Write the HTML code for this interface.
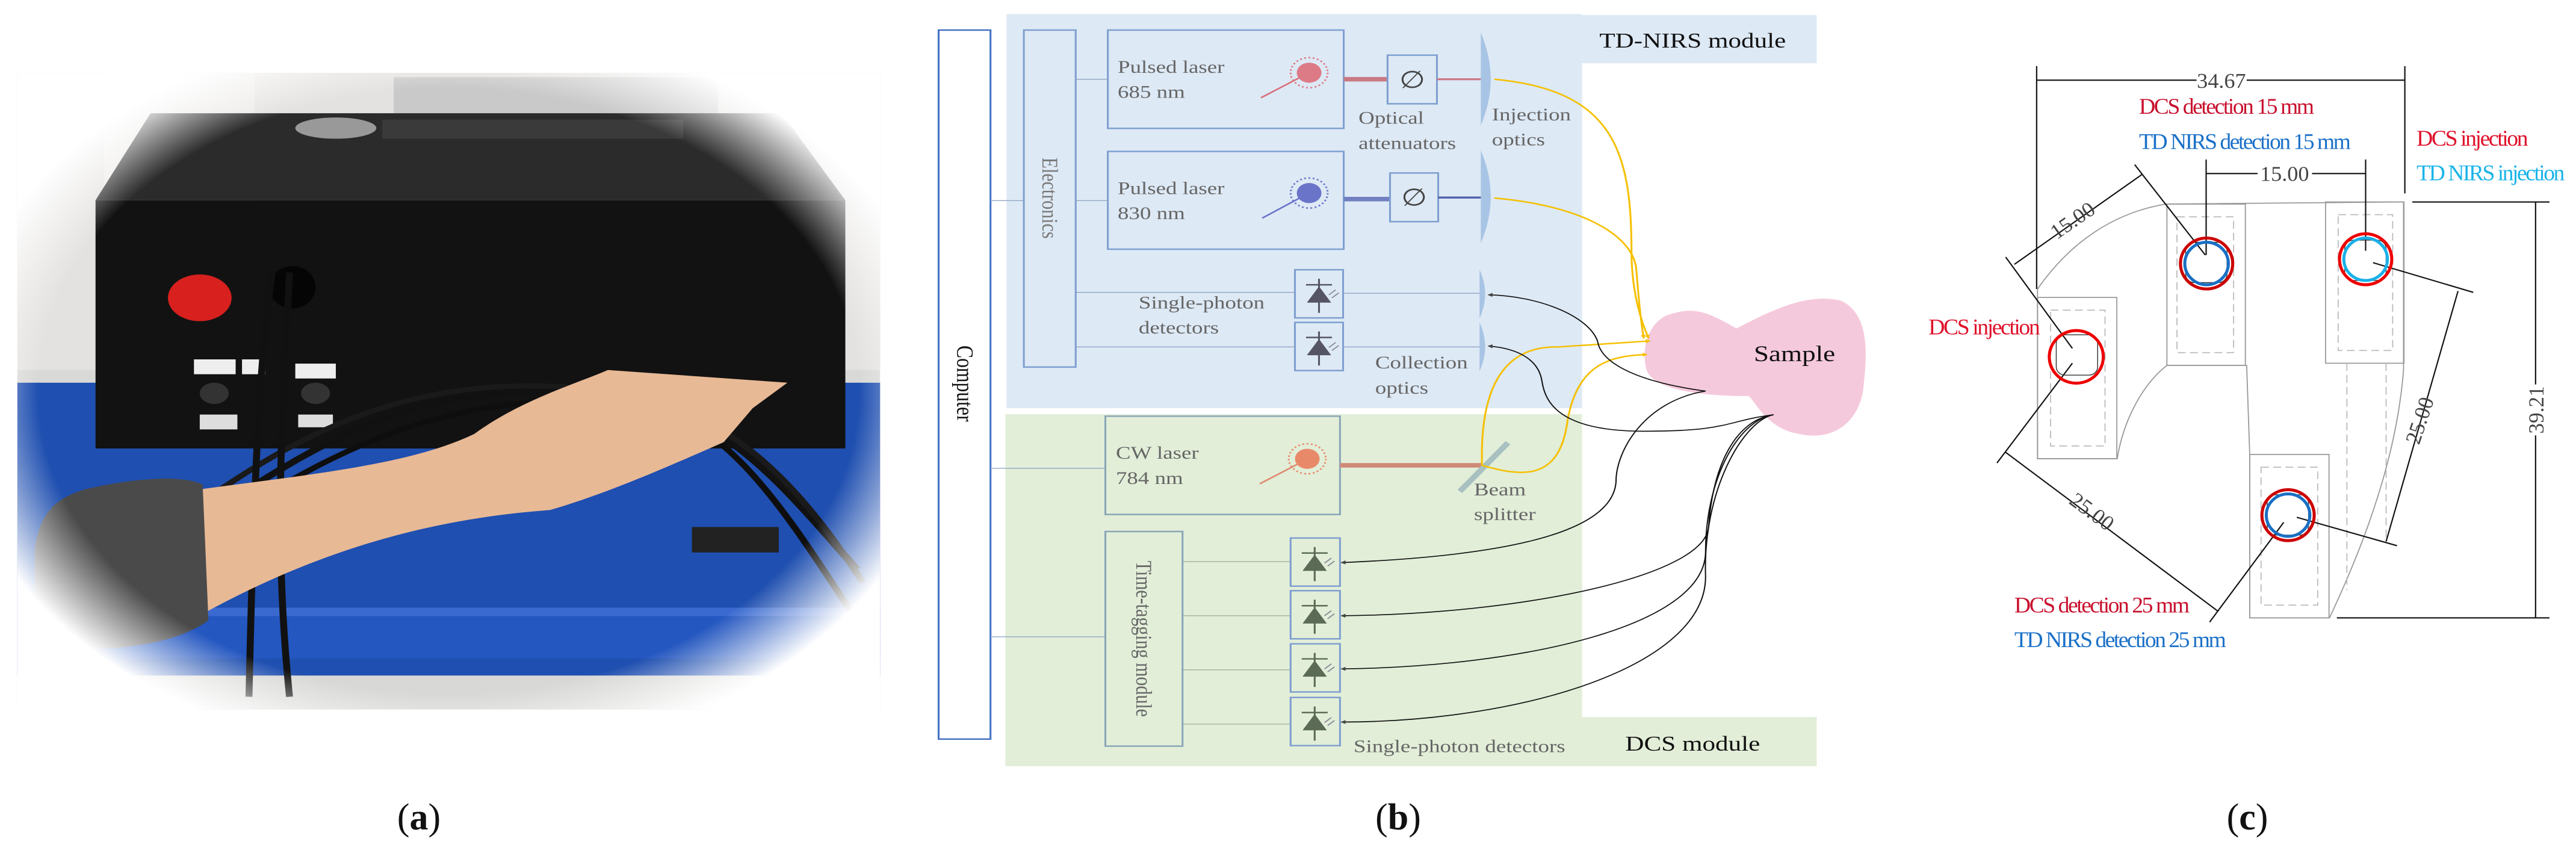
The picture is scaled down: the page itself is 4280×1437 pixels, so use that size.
<!DOCTYPE html>
<html><head><meta charset="utf-8"><style>
html,body{margin:0;padding:0;background:#fff}
svg{display:block}
text{font-family:"Liberation Serif",serif}
</style></head><body>
<svg width="4280" height="1437" viewBox="0 0 4280 1437" xmlns="http://www.w3.org/2000/svg">
<defs>
<marker id="ak" markerWidth="8" markerHeight="8" refX="7" refY="4" orient="auto" markerUnits="userSpaceOnUse" viewBox="0 0 8 8"><path d="M0,0 L8,4 L0,8 z" fill="#444"/></marker>
<marker id="ay" markerWidth="8" markerHeight="8" refX="7" refY="4" orient="auto" markerUnits="userSpaceOnUse" viewBox="0 0 8 8"><path d="M0,0 L8,4 L0,8 z" fill="#f5c000"/></marker>
<radialGradient id="vig" cx="50%" cy="50%" r="58%"><stop offset="82%" stop-color="#fff" stop-opacity="0"/><stop offset="100%" stop-color="#fff" stop-opacity="1"/></radialGradient>
<g id="det"><rect x="0" y="0" width="78" height="96" fill="none" stroke="#7f9fd0" stroke-width="3"/><path d="M18,30 L60,30 M22,64 L56,64 L39,36 z M39,18 L39,86" stroke="#556" stroke-width="3" fill="#556"/><path d="M55,50 L66,40 M60,56 L71,46" stroke="#889" stroke-width="2"/></g>
<g id="detg"><rect x="0" y="0" width="80" height="96" fill="none" stroke="#7f9fd0" stroke-width="3"/><path d="M18,30 L60,30 M22,64 L56,64 L39,36 z M39,18 L39,86" stroke="#5b6b55" stroke-width="3" fill="#5b6b55"/><path d="M55,50 L66,40 M60,56 L71,46" stroke="#889" stroke-width="2"/></g>
</defs>

<!-- Panel a: photo -->
<g transform="translate(0,100) scale(0.962,0.705)">
<rect x="30" y="30" width="1490" height="1500" fill="#d8d8d6"/>
<rect x="30" y="30" width="1490" height="700" fill="#e4e2e0"/>
<rect x="180" y="30" width="260" height="600" fill="#eceae8"/>
<rect x="680" y="40" width="560" height="100" fill="#c9c9c9"/>
<rect x="30" y="760" width="1490" height="690" fill="#1f4fb0"/>
<rect x="100" y="1290" width="1420" height="120" fill="#2457c0"/>
<path d="M100,1300 L1500,1300" stroke="#3a6ad0" stroke-width="20"/>
<polygon points="260,125 1350,125 1460,330 165,330" fill="#2b2b2b"/>
<rect x="660" y="140" width="520" height="45" fill="#3a3a3a"/>
<ellipse cx="580" cy="160" rx="70" ry="25" fill="#999"/>
<rect x="165" y="330" width="1295" height="585" fill="#121212"/>
<circle cx="345" cy="560" r="55" fill="#d8201e"/>
<ellipse cx="505" cy="535" rx="40" ry="50" fill="#050505"/>
<rect x="335" y="705" width="72" height="35" fill="#eee"/><rect x="418" y="705" width="40" height="35" fill="#eee"/><rect x="510" y="715" width="70" height="35" fill="#eee"/>
<circle cx="370" cy="785" r="25" fill="#333"/><circle cx="545" cy="785" r="25" fill="#333"/>
<rect x="345" y="835" width="65" height="35" fill="#ddd"/><rect x="515" y="835" width="60" height="30" fill="#ddd"/>
<rect x="1195" y="1100" width="150" height="60" fill="#222"/>
<path d="M330,1100 C600,850 750,750 1050,790 C1250,820 1350,1000 1480,1200" stroke="#111" stroke-width="14" fill="none"/>
<path d="M320,1070 C560,830 760,730 1060,780 C1260,820 1380,1000 1490,1230" stroke="#1a1a1a" stroke-width="12" fill="none"/>
<path d="M350,1120 C620,870 800,790 1080,800 C1250,830 1350,1050 1470,1300" stroke="#0e0e0e" stroke-width="12" fill="none"/>
<path d="M470,500 C450,700 440,900 430,1500 M500,500 C490,800 470,1100 500,1500" stroke="#111" stroke-width="12" fill="none"/>
<path d="M300,1020 C500,980 700,960 820,880 C900,800 1000,760 1050,730 L1360,760 L1300,820 L1250,900 C1150,960 1050,1020 950,1060 C750,1080 550,1150 330,1320 z" fill="#e8b995"/>
<path d="M150,1010 C250,980 320,980 350,1000 L360,1320 C300,1380 180,1400 60,1380 L60,1150 C70,1060 100,1030 150,1010 z" fill="#4a4a4a"/>
<rect x="30" y="30" width="1490" height="1500" fill="url(#vig)"/>
</g>

<!-- Panel b -->
<g transform="translate(1500,0) scale(1.026,0.833)">
<rect x="168" y="28" width="932" height="786" fill="#dde9f5"/>
<rect x="1100" y="30" width="380" height="96" fill="#dde9f5"/>
<text x="1128" y="95" font-size="42" fill="#111">TD-NIRS module</text>
<rect x="166" y="826" width="934" height="702" fill="#e2eed8"/>
<rect x="1100" y="1430" width="380" height="98" fill="#e2eed8"/>
<text x="1170" y="1497" font-size="42" fill="#111">DCS module</text>

<rect x="58" y="60" width="84" height="1414" fill="#fff" stroke="#4472c4" stroke-width="3"/>
<text transform="translate(88,765) rotate(90)" font-size="38" text-anchor="middle" fill="#111">Computer</text>
<rect x="196" y="60" width="84" height="672" fill="none" stroke="#7f9fd0" stroke-width="3"/>
<text transform="translate(226,395) rotate(90)" font-size="36" text-anchor="middle" fill="#777">Electronics</text>
<g stroke="#8aa0c0" stroke-width="1.5">
<path d="M142,400 H196 M142,934 H328 M142,1270 H328 M280,158 H332 M280,400 H332 M280,583 H635 M280,692 H635 M713,585 H936 M713,692 H936"/>
<path d="M453,1120 H628 M453,1228 H628 M453,1336 H628 M453,1444 H628" stroke="#9aab9a"/>
</g>
<rect x="332" y="60" width="382" height="196" fill="none" stroke="#7f9fd0" stroke-width="3"/>
<text x="348" y="145" font-size="36" fill="#666">Pulsed laser</text><text x="348" y="195" font-size="36" fill="#666">685 nm</text>
<path d="M580,195 L650,150" stroke="#d9707a" stroke-width="3"/><circle cx="658" cy="145" r="20" fill="#dc7a85"/><circle cx="658" cy="145" r="30" fill="none" stroke="#dc7a85" stroke-width="3" stroke-dasharray="3,4"/>
<path d="M714,158 H785" stroke="#c97a85" stroke-width="9"/>
<rect x="785" y="110" width="80" height="97" fill="none" stroke="#7f9fd0" stroke-width="3"/>
<text x="825" y="175" font-size="48" text-anchor="middle" fill="#444">∅</text>
<path d="M865,158 H938" stroke="#c97a85" stroke-width="4"/>
<path d="M936,65 Q968,158 936,250 z" fill="#a8c4e4"/>
<rect x="332" y="302" width="382" height="195" fill="none" stroke="#7f9fd0" stroke-width="3"/>
<text x="348" y="387" font-size="36" fill="#666">Pulsed laser</text><text x="348" y="437" font-size="36" fill="#666">830 nm</text>
<path d="M582,435 L650,390" stroke="#6a74c9" stroke-width="3"/><circle cx="658" cy="385" r="20" fill="#6a74c9"/><circle cx="658" cy="385" r="30" fill="none" stroke="#6a74c9" stroke-width="3" stroke-dasharray="3,4"/>
<path d="M714,397 H788" stroke="#7080c0" stroke-width="9"/>
<rect x="789" y="345" width="78" height="97" fill="none" stroke="#7f9fd0" stroke-width="3"/>
<text x="828" y="410" font-size="48" text-anchor="middle" fill="#444">∅</text>
<path d="M867,394 H938" stroke="#5060a8" stroke-width="4"/>
<path d="M936,300 Q968,392 936,485 z" fill="#a8c4e4"/>
<use href="#det" x="635" y="538"/><use href="#det" x="635" y="643"/>
<path d="M934,538 Q952,586 934,635 z M934,643 Q952,692 934,740 z" fill="#a8c4e4"/>
<text x="382" y="615" font-size="36" fill="#666">Single-photon</text><text x="382" y="665" font-size="36" fill="#666">detectors</text>
<text x="738" y="247" font-size="36" fill="#666">Optical</text><text x="738" y="297" font-size="36" fill="#666">attenuators</text>
<text x="954" y="240" font-size="36" fill="#666">Injection</text><text x="954" y="290" font-size="36" fill="#666">optics</text>
<text x="765" y="735" font-size="36" fill="#666">Collection</text><text x="765" y="785" font-size="36" fill="#666">optics</text>

<rect x="328" y="830" width="380" height="196" fill="none" stroke="#8aa6b8" stroke-width="3"/>
<text x="345" y="915" font-size="36" fill="#666">CW laser</text><text x="345" y="965" font-size="36" fill="#666">784 nm</text>
<path d="M578,965 L645,922" stroke="#e08a70" stroke-width="3"/><circle cx="655" cy="915" r="20" fill="#e88a6a"/><circle cx="655" cy="915" r="30" fill="none" stroke="#e88a6a" stroke-width="3" stroke-dasharray="3,4"/>
<path d="M708,928 H938" stroke="#d08a78" stroke-width="9"/>
<path d="M902,980 L980,883" stroke="#a8c0c0" stroke-width="10"/>
<text x="925" y="988" font-size="36" fill="#666">Beam</text><text x="925" y="1037" font-size="36" fill="#666">splitter</text>
<rect x="328" y="1060" width="125" height="428" fill="none" stroke="#8aa6b8" stroke-width="3"/>
<text transform="translate(378,1274) rotate(90)" font-size="36" text-anchor="middle" fill="#666">Time-tagging module</text>
<use href="#detg" x="628" y="1073"/><use href="#detg" x="628" y="1178"/><use href="#detg" x="628" y="1284"/><use href="#detg" x="628" y="1391"/>
<text x="730" y="1500" font-size="36" fill="#666">Single-photon detectors</text>

<path d="M1235,630 C1280,610 1300,620 1350,655 C1420,610 1470,585 1520,600 C1570,630 1560,720 1555,780 C1545,850 1500,880 1450,865 C1400,855 1380,800 1370,790 C1300,790 1220,780 1205,740 C1195,700 1205,650 1235,630 z" fill="#f5c9dc"/>
<text x="1378" y="720" font-size="44" fill="#111">Sample</text>

<g fill="none" stroke="#f5c000" stroke-width="3">
<path d="M958,158 C1150,180 1180,300 1180,500 C1180,580 1195,640 1208,675" marker-end="url(#ay)"/>
<path d="M958,395 C1100,410 1185,470 1188,540 C1192,600 1195,640 1200,675" marker-end="url(#ay)"/>
<path d="M938,928 C935,800 960,690 1060,692 L1210,680" marker-end="url(#ay)"/>
<path d="M938,928 C1000,950 1060,960 1075,850 C1090,720 1150,710 1205,707" marker-end="url(#ay)"/>
</g>
<g fill="none" stroke="#111" stroke-width="2">
<path d="M1300,780 C1180,760 1130,720 1125,680 C1110,630 1030,590 948,588" marker-end="url(#ak)"/>
<path d="M1410,827 C1330,840 1340,860 1200,860 C1060,860 1040,800 1035,760 C1030,720 1000,695 948,690" marker-end="url(#ak)"/>
<path d="M1300,780 C1200,800 1155,900 1155,960 C1150,1070 950,1110 710,1122" marker-end="url(#ak)"/>
<path d="M1410,827 C1340,840 1310,950 1305,1050 C1300,1150 1000,1225 710,1228" marker-end="url(#ak)"/>
<path d="M1410,827 C1350,840 1300,960 1300,1100 C1300,1250 1000,1330 710,1334" marker-end="url(#ak)"/>
<path d="M1410,827 C1360,840 1295,980 1300,1150 C1300,1330 1000,1440 710,1440" marker-end="url(#ak)"/>
</g>
</g>

<!-- Panel c -->
<g transform="translate(3150,50) scale(0.724,0.705)">
<g fill="none" stroke="#999" stroke-width="2.5">
<path d="M325,610 C400,500 500,430 620,410 L1165,405 L1165,800 C1150,1000 1080,1200 995,1385 L812,1385 L812,1000 L805,790 L622,790 C560,840 520,930 508,1010 L325,1010 z"/>
<rect x="325" y="630" width="182" height="380"/><rect x="622" y="410" width="180" height="380"/><rect x="986" y="405" width="180" height="380"/><rect x="812" y="1000" width="182" height="385"/>
</g>
<g fill="none" stroke="#bbb" stroke-width="2.5" stroke-dasharray="18,10">
<rect x="355" y="660" width="125" height="320"/><rect x="645" y="440" width="130" height="320"/><rect x="1015" y="435" width="125" height="320"/><rect x="838" y="1030" width="130" height="325"/>
<path d="M1035,785 V1320 M1125,785 V1200"/>
</g>
<g stroke="#111" stroke-width="3" fill="none">
<path d="M323,85 V610 M1168,85 V385 M323,118 H1168 M712,305 V530 M1078,305 V520 M712,338 H1078"/>
<path d="M1185,405 H1500 M1012,1385 H1500 M1468,405 V1385"/>
<path d="M252,535 L405,750 M548,317 L710,530 M272,552 L565,340"/>
<path d="M232,1020 L405,785 M720,1395 L890,1160 M252,995 L740,1370"/>
<path d="M1095,548 L1325,618 M920,1148 L1150,1215 M1290,615 L1125,1205"/>
</g>
<g fill="#fff"><rect x="690" y="95" width="115" height="48"/><rect x="830" y="313" width="125" height="48"/><rect x="1442" y="835" width="52" height="120"/></g>
<g font-family="Liberation Sans,sans-serif" font-size="50" fill="#444">
<text x="747" y="136" text-anchor="middle">34.67</text>
<text x="892" y="355" text-anchor="middle">15.00</text>
<text transform="translate(415,462) rotate(-35)" text-anchor="middle">15.00</text>
<text transform="translate(440,1148) rotate(37)" text-anchor="middle">25.00</text>
<text transform="translate(1218,925) rotate(-72)" text-anchor="middle">25.00</text>
<text transform="translate(1486,895) rotate(-90)" text-anchor="middle">39.21</text>
</g>
<g fill="none" stroke="#333" stroke-width="2"><rect x="368" y="718" width="95" height="95" rx="20"/><rect x="665" y="500" width="95" height="95" rx="20"/><rect x="1030" y="495" width="95" height="95" rx="20"/><rect x="852" y="1095" width="95" height="95" rx="20"/></g>
<g fill="none" stroke-width="7">
<circle cx="414" cy="770" r="62" stroke="#e00"/>
<circle cx="713" cy="550" r="60" stroke="#c00"/><circle cx="713" cy="550" r="50" stroke="#1a6fc4"/>
<circle cx="1078" cy="540" r="60" stroke="#e00"/><circle cx="1078" cy="540" r="50" stroke="#1ab0e8"/>
<circle cx="900" cy="1143" r="60" stroke="#c00"/><circle cx="900" cy="1143" r="50" stroke="#1a6fc4"/>
</g>
<g font-size="52">
<text x="558" y="197" fill="#c8102e" textLength="402">DCS detection 15 mm</text>
<text x="558" y="280" fill="#1a70c8" textLength="486">TD NIRS detection 15 mm</text>
<text x="1195" y="272" fill="#e0102a" textLength="256">DCS injection</text>
<text x="1195" y="354" fill="#1ab4e8" textLength="340">TD NIRS injection</text>
<text x="75" y="717" fill="#e0102a" textLength="256">DCS injection</text>
<text x="272" y="1372" fill="#c8102e" textLength="402">DCS detection 25 mm</text>
<text x="272" y="1454" fill="#1a70c8" textLength="486">TD NIRS detection 25 mm</text>
</g>
</g>

<!-- Labels -->
<g font-size="62" fill="#111">
<text x="696" y="1378" text-anchor="middle">(<tspan font-weight="bold">a</tspan>)</text>
<text x="2323" y="1378" text-anchor="middle">(<tspan font-weight="bold">b</tspan>)</text>
<text x="3734" y="1378" text-anchor="middle">(<tspan font-weight="bold">c</tspan>)</text>
</g>
</svg>
</body></html>
